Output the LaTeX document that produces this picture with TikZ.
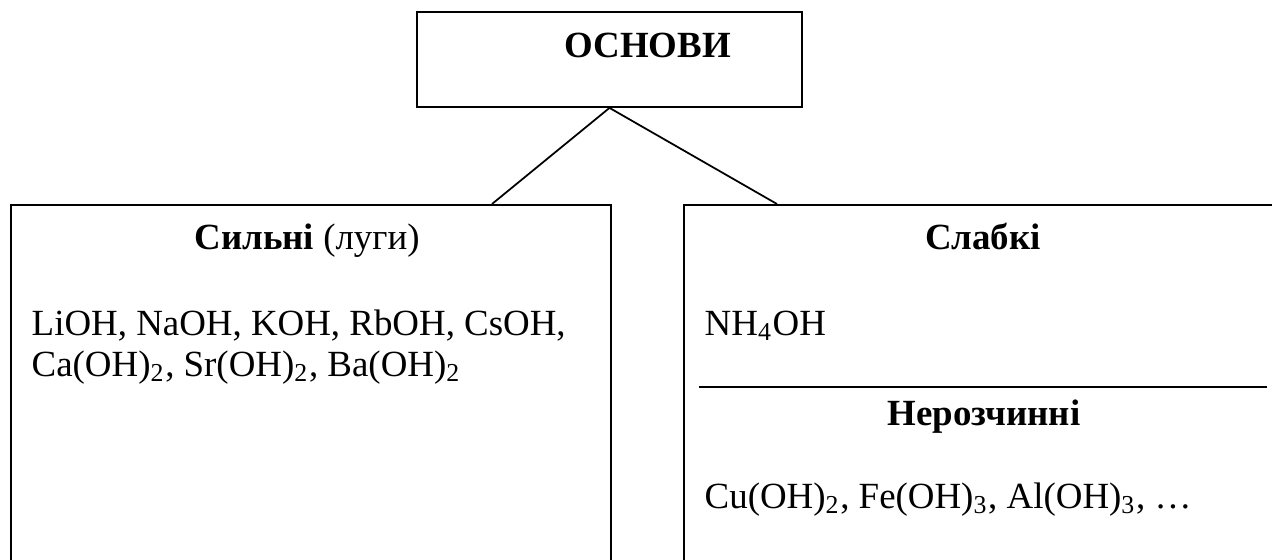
\documentclass[tikz,border=0pt]{standalone}
\usepackage{fontspec}
\setmainfont{Liberation Serif}
\usepackage{tikz}

\begin{document}
\begin{tikzpicture}[
        box/.style={draw, line width=0.5pt, inner sep=0pt, anchor=north west},
        txt/.style={inner sep=0pt, font=\fontsize{10.5}{12.6}\selectfont},
        cnt/.style={txt, anchor=base},
        lft/.style={txt, anchor=base west}
    ]
                \clip (0, 0) rectangle (12.72, -5.59);

                \node[draw, line width=0.5pt, minimum width=3.85cm, minimum height=0.95cm, inner sep=0pt] (o) at (6.095, -0.595) {};
                \node[cnt, font=\fontsize{10.5}{12.6}\selectfont\bfseries] (ot) at (6.475, -0.57) {ОСНОВИ};

                \node[box, minimum width=6.0cm, minimum height=4.2cm] (s) at (0.10, -2.04) {};
                \node[box, minimum width=6.6cm, minimum height=4.2cm] (w) at (6.83, -2.04) {};

                \coordinate (sc) at (4.92, -2.04);
                \coordinate (wc) at (7.77, -2.04);

                \node[cnt] (st) at (3.07, -2.49) {\textbf{Сильні} (луги)};
                \node[lft] (sa) at (0.31, -3.35) {LiOH, NaOH, KOH, RbOH, CsOH,};
                \node[lft] (sb) at (0.31, -3.76) {Ca(OH)\textsubscript{2}, Sr(OH)\textsubscript{2}, Ba(OH)\textsubscript{2}};

                \node[cnt] (wt) at (9.83, -2.49) {\textbf{Слабкі}};
                \node[lft] (wa) at (7.04, -3.35) {NH\textsubscript{4}OH};

                \coordinate (hl) at (6.99, -3.87);
                \coordinate (hr) at (12.67, -3.87);

                \node[cnt] (nt) at (9.84, -4.25) {\textbf{Нерозчинні}};
                \node[lft] (na) at (7.04, -5.08) {Cu(OH)\textsubscript{2}, Fe(OH)\textsubscript{3}, Al(OH)\textsubscript{3}, …};

                \draw[line width=0.5pt]
                (o.south) -- (sc)
                (o.south) -- (wc);
                \draw[line width=0.6pt] (hl) -- (hr);
            \end{tikzpicture}
\end{document}
